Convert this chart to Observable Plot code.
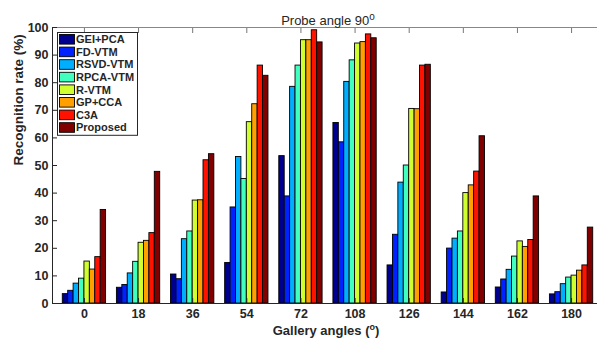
<!DOCTYPE html>
<html><head><meta charset="utf-8">
<script src="https://cdn.jsdelivr.net/npm/d3@7"></script>
<script src="https://cdn.jsdelivr.net/npm/@observablehq/plot@0.6"></script>
<style>
body{margin:0;background:#fff}
svg{font-family:"Liberation Sans",Arial,sans-serif}
</style>
</head><body><div id="chart"></div>
<script>
const angles = ["0","18","36","54","72","108","126","144","162","180"];
const methods = ["GEI+PCA","FD-VTM","RSVD-VTM","RPCA-VTM","R-VTM","GP+CCA","C3A","Proposed"];
const colors = ["#00008f","#0022ff","#00aeff","#40ffbf","#cfff30","#ffa000","#ff1200","#800000"];
const geiPca   = [3.4, 5.7, 10.5, 14.7, 53.4, 65.4, 13.8, 4.0, 5.8, 3.3];
const fdVtm    = [4.6, 6.7, 8.8, 34.8, 38.8, 58.4, 24.9, 19.9, 8.7, 4.1];
const rsvdVtm  = [7.2, 10.9, 23.3, 53.1, 78.5, 80.3, 43.8, 23.5, 12.2, 7.0];
const rpcaVtm  = [9.0, 15.1, 26.1, 45.1, 86.2, 88.1, 50.0, 26.1, 17.0, 9.4];
const rVtm     = [15.2, 22.0, 37.3, 65.7, 95.4, 94.2, 70.5, 40.0, 22.5, 10.1];
const gpCca    = [12.3, 22.7, 37.4, 72.2, 95.4, 94.7, 70.4, 42.8, 20.5, 11.9];
const c3a      = [16.8, 25.5, 51.9, 86.2, 99.0, 97.5, 86.2, 47.8, 23.0, 13.8];
const proposed = [33.9, 47.7, 54.1, 82.5, 94.6, 96.1, 86.5, 60.6, 38.8, 27.5];
const yTicks = [0,10,20,30,40,50,60,70,80,90,100];
const titleText = "Probe angle 90";
const yLabel = "Recognition rate (%)";
const xLabel = "Gallery angles (";

const series = [geiPca, fdVtm, rsvdVtm, rpcaVtm, rVtm, gpCca, c3a, proposed];
const rows = [];
series.forEach((vals, k) => vals.forEach((v, i) => rows.push({i, k, method: methods[k], value: v})));
const bw = 0.1;
const xIdx = d3.range(angles.length);
const xDom = [-0.59, 9.59];
const ink = "#262626";

const chart = Plot.plot({
  width: 597, height: 345,
  marginLeft: 52, marginRight: 0, marginTop: 27, marginBottom: 42,
  style: {fontFamily: "Liberation Sans, Arial, sans-serif", background: "#fff"},
  x: {type: "linear", domain: xDom, range: [52, 603]},
  y: {domain: [0, 100], range: [303, 27]},
  color: {domain: methods, range: colors},
  marks: [
    Plot.rectY(rows, {x1: d => d.i + (d.k - 4) * bw, x2: d => d.i + (d.k - 3) * bw, y: "value",
      fill: "method", stroke: "#000", strokeWidth: 0.9}),
    Plot.ruleY([100], {stroke: "#888", strokeWidth: 1}),
    Plot.ruleY([0], {stroke: ink, strokeWidth: 1.2}),
    Plot.ruleX([xDom[0]], {stroke: ink, strokeWidth: 1}),
    // inward tick marks
    Plot.axisY({ticks: yTicks, tickSize: 5, dx: 5, tickFormat: () => "", label: null, stroke: ink}),
    Plot.axisX({ticks: xIdx, tickSize: 5, dy: -5, tickFormat: () => "", label: null, stroke: ink}),
    Plot.axisX({anchor: "top", ticks: xIdx, tickSize: 5, dy: 5, tickFormat: () => "", label: null, stroke: "#777"}),
    // tick labels
    Plot.axisY({ticks: yTicks, tickSize: 0, tickPadding: 4, label: null, fontSize: 12.5, fontWeight: "bold", fill: ink}),
    Plot.axisX({ticks: xIdx, tickSize: 0, tickPadding: 6, tickFormat: i => angles[i], label: null, fontSize: 12.5, fontWeight: "bold", fill: ink}),
    // titles
    Plot.text([titleText], {frameAnchor: "top", dy: -12, dx: 3, fontSize: 13, fill: ink}),
    Plot.text([yLabel], {frameAnchor: "left", dx: -34, rotate: -90, fontSize: 13.5, fontWeight: "bold", fill: ink}),
    Plot.text([xLabel], {frameAnchor: "bottom", dy: 31, dx: 1, fontSize: 13, fontWeight: "bold", fill: ink})
  ]
});
document.getElementById("chart").appendChild(chart);

const svg = d3.select(chart);
svg.selectAll("text").each(function() {
  const t = d3.select(this);
  const s = this.textContent;
  if (s === titleText) {
    t.append("tspan").attr("dy", "-5").attr("font-size", 10).text("o");
  } else if (s === xLabel) {
    t.append("tspan").attr("dy", "-5").attr("font-size", 9).text("o");
    t.append("tspan").attr("dy", "5").text(")");
  }
});

// legend inside the axes, top-left
const lg = svg.append("g").attr("font-size", 11).attr("font-weight", "bold").attr("text-anchor", "start");
const lx = 57, ly = 32, step = 12.6;
lg.append("rect").attr("x", lx + 0.5).attr("y", ly + 0.5).attr("width", 80).attr("height", 8 * step + 2)
  .attr("fill", "#fff").attr("stroke", ink);
methods.forEach((m, k) => {
  const cy = ly + 7.3 + k * step;
  lg.append("rect").attr("x", lx + 2.5).attr("y", cy - 4.8).attr("width", 15).attr("height", 9.6)
    .attr("fill", colors[k]).attr("stroke", "#000").attr("stroke-width", 0.9);
  lg.append("text").attr("x", lx + 19).attr("y", cy).attr("dy", "0.36em").attr("text-anchor", "start")
    .attr("fill", ink).text(m);
});
</script>
</body></html>
